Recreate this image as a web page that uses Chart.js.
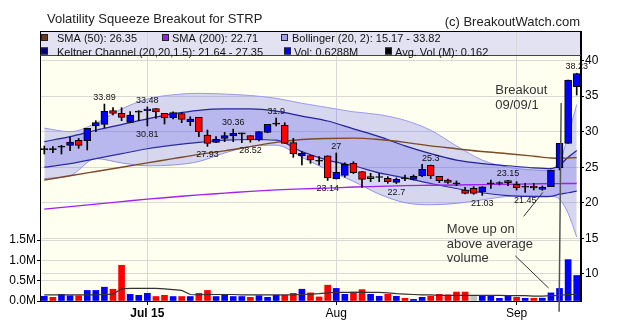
<!DOCTYPE html>
<html>
<head>
<meta charset="utf-8">
<script src="https://cdn.jsdelivr.net/npm/chart.js@4.4.1/dist/chart.umd.min.js"></script>
<style>
  html, body { margin: 0; padding: 0; background: #ffffff; }
  canvas { display: block; }
</style>
</head>
<body>
<canvas id="chart" width="620" height="326"></canvas>
<script>
// Trading days, 15 Jun to 11 Sep 2015
const dates = ['06-15','06-16','06-17','06-18','06-19','06-22','06-23','06-24','06-25','06-26','06-29','06-30',
  '07-01','07-02','07-06','07-07','07-08','07-09','07-10','07-13','07-14','07-15','07-16','07-17','07-20','07-21','07-22','07-23','07-24','07-27','07-28','07-29','07-30','07-31',
  '08-03','08-04','08-05','08-06','08-07','08-10','08-11','08-12','08-13','08-14','08-17','08-18','08-19','08-20','08-21','08-24','08-25','08-26','08-27','08-28','08-31',
  '09-01','09-02','09-03','09-04','09-08','09-09','09-10','09-11'];

// STRP daily quotes
const openP  = [27.55,27.55,27.89,28.08,28.78,28.73,30.8,31.04,32.96,32.59,31.32,32.82,32.96,33.24,32.59,31.97,32.55,31.41,32.02,29.53,28.5,29.06,29.39,29.77,29.44,28.83,29.91,31.13,30.9,28.45,26.62,26.62,25.92,26.6,23.34,23.85,25.54,24.37,23.67,23.62,23.43,22.87,23.43,23.29,23.76,25.25,23.71,23.2,22.73,21.79,22.02,21.55,22.72,22.77,23.1,22.58,22.25,22.35,21.88,22.25,24.93,28.36,36.34];
const highP  = [27.98,27.9,28.08,29.2,29.06,30.47,31.55,33.89,33.38,33.38,32.82,32.96,33.48,33.24,32.59,32.8,32.73,32.1,32.02,30.24,29.3,29.9,30.36,29.8,29.44,30.0,31.04,31.9,31.27,29.06,27.19,26.62,26.48,26.6,27,25.6,25.78,24.37,24.14,24.14,23.67,23.5,23.9,23.9,25.4,25.3,23.71,23.34,23.06,22.16,22.25,22.25,23.19,22.95,23.15,22.95,22.72,22.72,22.35,24.6,28.36,37.28,38.23];
const lowP   = [26.86,27.05,26.86,27.33,27.66,27.42,30.0,30.57,32.35,31.55,31.27,31.55,30.81,31.88,31.08,31.8,31.27,30.85,29.3,27.93,28.45,28.6,28.6,28.45,28.52,28.7,29.85,30.8,28.36,26.39,25.31,25.54,25.31,23.14,23.34,23.6,24.1,22.16,22.96,22.96,22.73,22.7,23.1,23.2,23.66,23.4,22.82,22.73,22.4,21.22,21.18,21.03,22.02,22.49,22.4,21.79,21.45,21.79,21.75,22.25,24.6,28.36,35.17];
const closeP = [27.55,27.55,27.89,28.55,28.08,30.47,31.27,32.87,32.59,32.02,32.35,32.82,33.2,32.77,31.93,32.68,31.74,31.79,30.0,28.36,28.92,29.44,29.77,29.77,28.83,30.0,31.04,31.13,28.36,26.86,26.95,26.01,25.92,23.5,24.28,25.4,24.23,23.29,23.39,23.62,22.96,23.29,23.43,23.71,24.7,23.76,23.1,22.87,22.73,21.32,21.32,22.25,22.72,22.77,22.82,22.11,22.25,22.07,22.16,24.6,28.36,37.28,38.2];

// Volume in millions, move of the close against the prior close, and average volume
const volumeM = [0.116,0.09,0.165,0.13,0.13,0.26,0.26,0.34,0.29,0.88,0.165,0.14,0.19,0.11,0.14,0.11,0.11,0.11,0.19,0.26,0.11,0.14,0.11,0.11,0.09,0.13,0.09,0.14,0.14,0.19,0.29,0.2,0.1,0.39,0.31,0.165,0.22,0.28,0.165,0.116,0.165,0.116,0.066,0.04,0.09,0.116,0.165,0.15,0.22,0.22,0.14,0.14,0.116,0.066,0.116,0.09,0.066,0.066,0.07,0.2,0.31,1.02,0.6288];
const volMove = [1,-1,1,1,-1,1,1,1,-1,-1,1,1,1,-1,-1,1,-1,1,-1,-1,1,1,1,1,-1,1,1,1,-1,-1,1,-1,-1,-1,1,1,-1,-1,1,1,-1,1,-1,1,1,-1,-1,-1,-1,-1,0,1,1,1,1,-1,1,-1,1,1,1,1,1];
const avgVolM = [0.15,0.15,0.15,0.15,0.15,0.15,0.15,0.16,0.17,0.30,0.31,0.31,0.31,0.31,0.30,0.28,0.26,0.16,0.15,0.16,0.16,0.16,0.16,0.15,0.15,0.15,0.15,0.15,0.15,0.15,0.16,0.17,0.18,0.20,0.21,0.21,0.21,0.22,0.21,0.21,0.20,0.18,0.17,0.16,0.15,0.15,0.14,0.14,0.14,0.14,0.14,0.14,0.14,0.14,0.13,0.13,0.13,0.12,0.12,0.13,0.14,0.16,0.162];

// Indicator readings at selected days (index into dates)
const bandDays  = [0,3,6,9,12,15,18,21,24,27,30,33,36,39,42,45,48,51,54,57,59,60,61,62];
const sma50     = [23.2,23.8,24.4,25.0,25.6,26.2,26.8,27.3,27.9,28.5,28.9,29.05,29.1,28.9,28.5,28.0,27.6,27.2,26.9,26.55,26.3,26.25,26.3,26.35];
const sma200    = [19.1,19.45,19.8,20.15,20.5,20.8,21.1,21.35,21.6,21.8,21.95,22.05,22.2,22.3,22.4,22.45,22.5,22.55,22.6,22.65,22.68,22.69,22.7,22.71];
const keltUpper = [28.6,29.3,30.2,31.0,31.8,32.5,33.0,33.2,33.2,32.9,32.2,31.5,30.4,29.3,28.0,26.9,26.0,25.5,25.2,24.9,24.8,25.3,26.4,27.35];
const keltLower = [25.0,25.5,26.2,26.9,27.6,28.1,28.5,28.8,28.9,28.8,27.2,26.0,25.2,24.2,23.5,22.7,22.0,21.4,21.0,20.85,20.9,21.2,21.4,21.64];
const bollUpper = [30.5,30.0,31.2,33.2,34.6,35.2,35.4,35.3,35.1,34.7,34.0,33.4,32.8,32.4,31.6,30.2,28.0,26.0,25.0,24.6,24.5,25.6,29.5,33.82];
const bollLower = [23.4,23.8,26.2,25.6,25.2,25.3,25.8,27.0,27.9,28.1,26.4,24.6,23.0,21.2,20.0,19.7,19.9,20.4,20.9,21.0,20.9,20.5,18.5,15.17];

// Axis ticks
const tickDays   = [12, 34, 55];
const tickNames  = ['Jul 15', 'Aug', 'Sep'];
const priceTicks = [10, 15, 20, 25, 30, 35, 40];
const volTicks   = [0, 0.5, 1.0, 1.5];

// Days whose high / low is written on the chart
const highNotes = [7, 12, 22, 27, 34, 45, 54, 62];
const lowNotes  = [12, 19, 24, 33, 41, 51, 56];

const FONT = '"Liberation Sans", Arial, sans-serif';
const last = arr => arr[arr.length - 1];
const pts = vals => vals.map((v, i) => ({ x: bandDays[i], y: v }));

const candleColor = i => closeP[i] > openP[i] ? '#0000ff' : (closeP[i] < openP[i] ? '#ff0000' : '#000000');
const volColor = i => volMove[i] > 0 ? '#0000ff' : (volMove[i] < 0 ? '#ff0000' : '#c0c0c0');

const bandFill = 'rgba(105,105,235,0.27)';
const lineOpts = { type: 'line', xAxisID: 'xl', yAxisID: 'yP', pointRadius: 0, cubicInterpolationMode: 'monotone' };

const datasets = [
  { // candle bodies
    type: 'bar', xAxisID: 'x', yAxisID: 'yP', order: 1, grouped: false,
    data: openP.map((o, i) => o === closeP[i] ? [o - 0.07, o + 0.07] : [o, closeP[i]]),
    backgroundColor: ctx => candleColor(ctx.dataIndex),
    borderColor: '#000', borderWidth: 1, borderSkipped: false, barThickness: 7
  },
  { // candle wicks
    type: 'bar', xAxisID: 'x', yAxisID: 'yP', order: 2, grouped: false,
    data: lowP.map((l, i) => [l, highP[i]]),
    backgroundColor: '#000', borderWidth: 0, barThickness: 1
  },
  { // average volume
    type: 'line', xAxisID: 'x', yAxisID: 'yVol', order: 3, data: avgVolM,
    borderColor: '#333333', borderWidth: 1.2, pointRadius: 0, tension: 0
  },
  { // daily volume
    type: 'bar', xAxisID: 'x', yAxisID: 'yVol', order: 4, grouped: false, data: volumeM,
    backgroundColor: ctx => volColor(ctx.dataIndex),
    borderWidth: 0, barThickness: 6
  },
  { ...lineOpts, order: 5, data: pts(sma200), borderColor: '#a020f0', borderWidth: 1.4 },
  { ...lineOpts, order: 6, data: pts(sma50), borderColor: '#7b4a26', borderWidth: 1.4 },
  { ...lineOpts, order: 7, data: pts(keltUpper), fill: '+1', backgroundColor: bandFill, borderColor: '#23239a', borderWidth: 1.2 },
  { ...lineOpts, order: 8, data: pts(keltLower), borderColor: '#23239a', borderWidth: 1.2 },
  { ...lineOpts, order: 9, data: pts(bollUpper), fill: '+1', backgroundColor: bandFill, borderColor: '#9a9af0', borderWidth: 1 },
  { ...lineOpts, order: 10, data: pts(bollLower), borderColor: '#9a9af0', borderWidth: 1 }
];

const legendItems = [
  { x: 41,  tx: 57,  row: 0, color: '#6b3a1e', text: 'SMA (50): ' + last(sma50) },
  { x: 162, tx: 172, row: 0, color: '#9b1ff0', text: 'SMA (200): ' + last(sma200) },
  { x: 281, tx: 292, row: 0, color: '#a0a0f0', text: 'Bollinger (20, 2): ' + last(bollLower) + ' - ' + last(bollUpper) },
  { x: 41,  tx: 57,  row: 1, color: '#000080', text: 'Keltner Channel (20,20,1.5): ' + last(keltLower) + ' - ' + last(keltUpper) },
  { x: 284, tx: 294, row: 1, color: '#0000ff', text: 'Vol: ' + last(volumeM) + 'M' },
  { x: 385, tx: 395, row: 1, color: '#000000', text: 'Avg. Vol (M): ' + last(avgVolM) }
];

const decor = {
  id: 'decor',
  beforeDraw(chart) {
    const { ctx, chartArea: a } = chart;
    ctx.save();
    ctx.fillStyle = '#ffffff';
    ctx.fillRect(0, 0, chart.width, chart.height);
    ctx.fillStyle = '#fffff0';
    ctx.fillRect(a.left, a.top, a.right - a.left, a.bottom - a.top);
    ctx.fillStyle = '#e2e2f2';
    ctx.fillRect(a.left, a.top, a.right - a.left, 24);
    ctx.restore();
  },
  afterDraw(chart) {
    const { ctx, chartArea: a } = chart;
    const xs = chart.scales.xl, yp = chart.scales.yP;
    ctx.save();

    // frame and legend box
    ctx.strokeStyle = '#000';
    ctx.lineWidth = 1;
    ctx.strokeRect(a.left + 0.5, a.top + 0.5, a.right - a.left - 1, a.bottom - a.top);
    ctx.strokeStyle = '#444';
    ctx.beginPath();
    ctx.moveTo(a.left, a.top + 24.5);
    ctx.lineTo(a.right, a.top + 24.5);
    ctx.stroke();

    // legend entries
    ctx.font = '11px ' + FONT;
    ctx.textBaseline = 'alphabetic';
    ctx.textAlign = 'left';
    legendItems.forEach(it => {
      const top = a.top + 3 + it.row * 13.5;
      ctx.fillStyle = it.color;
      ctx.fillRect(it.x, top, 7, 7);
      ctx.strokeStyle = '#222';
      ctx.strokeRect(it.x + 0.5, top + 0.5, 6, 6);
      ctx.fillStyle = '#111';
      ctx.fillText(it.text, it.tx, top + 8);
    });

    // title and credit
    ctx.fillStyle = '#222';
    ctx.font = '13px ' + FONT;
    ctx.fillText('Volatility Squeeze Breakout for STRP', 47, 23);
    ctx.textAlign = 'right';
    ctx.fillText('(c) BreakoutWatch.com', 580, 25.5);

    // high / low values
    ctx.font = '9px ' + FONT;
    ctx.textAlign = 'center';
    ctx.fillStyle = '#111';
    highNotes.forEach(d => {
      ctx.textBaseline = 'alphabetic';
      ctx.fillText(String(highP[d]), xs.getPixelForValue(d), yp.getPixelForValue(highP[d]) - 4);
    });
    lowNotes.forEach(d => {
      ctx.textBaseline = 'top';
      ctx.fillText(String(lowP[d]), xs.getPixelForValue(d), yp.getPixelForValue(lowP[d]) + 4);
    });

    // breakout callouts
    const P = (day, price) => [xs.getPixelForValue(day), yp.getPixelForValue(price)];
    ctx.fillStyle = '#333';
    ctx.font = '13px ' + FONT;
    ctx.textAlign = 'left';
    ctx.textBaseline = 'alphabetic';
    let p = P(52.52, 35.27); ctx.fillText('Breakout', p[0], p[1]);
    p = P(52.52, 33.2);      ctx.fillText('09/09/1', p[0], p[1]);
    p = P(46.88, 15.75);     ctx.fillText('Move up on', p[0], p[1]);
    p = P(46.88, 13.64);     ctx.fillText('above average', p[0], p[1]);
    p = P(46.88, 11.67);     ctx.fillText('volume', p[0], p[1]);

    const seg = (d1, v1, d2, v2, color, w) => {
      const s = P(d1, v1), e = P(d2, v2);
      ctx.strokeStyle = color; ctx.lineWidth = w;
      ctx.beginPath(); ctx.moveTo(s[0], s[1]); ctx.lineTo(e[0], e[1]); ctx.stroke();
    };
    seg(60.19, 34.05, 59.95, 4.63, '#555', 1.5);
    seg(54.85, 12.51, 58.74, 7.97, '#333', 1);
    seg(55.82, 18.07, 58.06, 21.45, '#333', 1);

    ctx.restore();
  }
};

const gridColor = '#d9d9d9';
const onTick = i => tickDays.indexOf(i) >= 0;

new Chart(document.getElementById('chart'), {
  data: { labels: dates, datasets },
  plugins: [decor],
  options: {
    responsive: false,
    devicePixelRatio: 1,
    animation: false,
    events: [],
    layout: { padding: { top: 31, left: 0, right: 0, bottom: 0 } },
    plugins: { legend: { display: false }, tooltip: { enabled: false }, title: { display: false } },
    scales: {
      x: {
        type: 'category', position: 'bottom', offset: true,
        afterFit: s => { s.height = 25; },
        ticks: {
          autoSkip: false, maxRotation: 0, minRotation: 0, padding: 1, color: '#000',
          callback: (v, i) => onTick(i) ? tickNames[tickDays.indexOf(i)] : '',
          font: c => ({ family: FONT, size: 12, weight: c.index === tickDays[0] ? 'bold' : 'normal' })
        },
        grid: {
          offset: false, tickLength: 4,
          color: c => onTick(c.index) ? gridColor : 'rgba(0,0,0,0)',
          tickColor: c => onTick(c.index) ? '#000' : 'rgba(0,0,0,0)'
        },
        border: { color: '#000' }
      },
      xl: { type: 'linear', display: false, min: -0.5, max: 62.5, offset: false },
      yP: {
        type: 'linear', position: 'right', min: 6.155, max: 44.18,
        afterBuildTicks: s => { s.ticks = priceTicks.map(v => ({ value: v })); },
        afterFit: s => { s.width = 39; },
        ticks: { color: '#000', padding: 1, font: { family: FONT, size: 12 } },
        grid: { color: gridColor, tickColor: '#000', tickLength: 3 },
        border: { color: '#000' }
      },
      yVol: {
        type: 'linear', position: 'left', min: 0, max: 6.65,
        afterBuildTicks: s => { s.ticks = volTicks.map(v => ({ value: v })); },
        afterFit: s => { s.width = 40; },
        ticks: { color: '#000', padding: 1, font: { family: FONT, size: 12 }, callback: v => v.toFixed(1) + 'M' },
        grid: { color: gridColor, tickColor: '#000', tickLength: 3 },
        border: { color: '#000' }
      }
    }
  }
});
</script>
</body>
</html>
